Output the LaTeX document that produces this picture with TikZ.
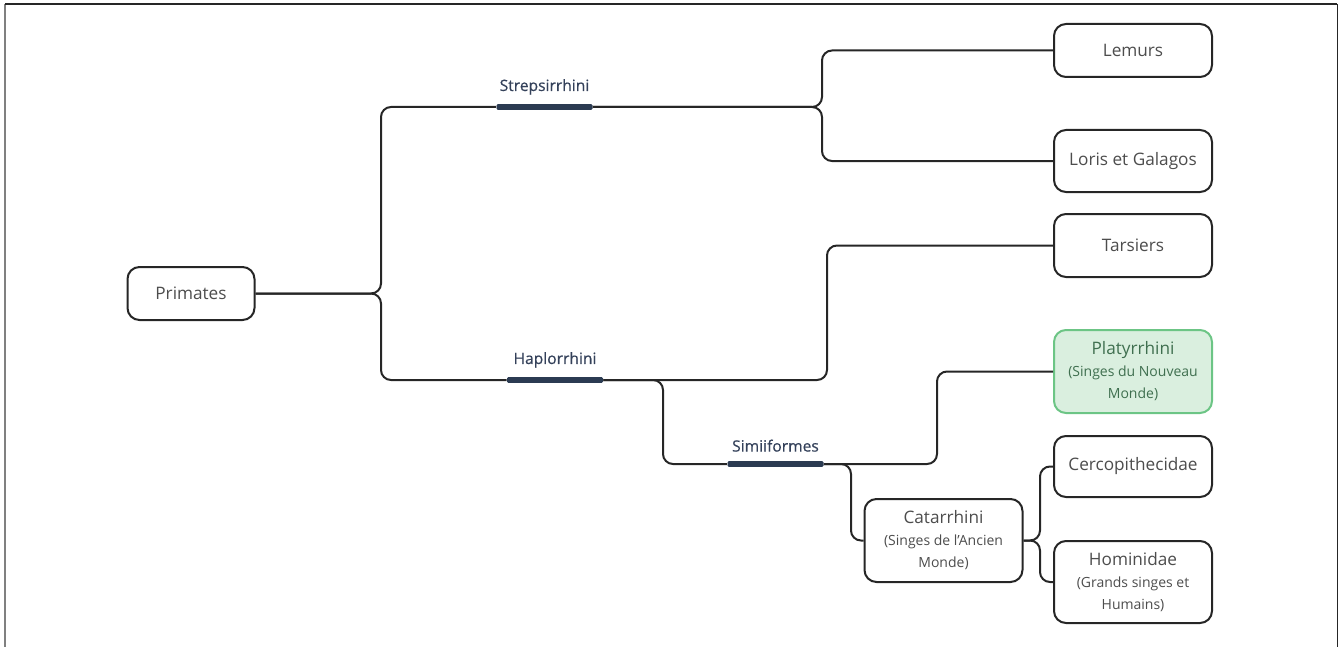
\documentclass[tikz,border=0pt]{standalone}
\usepackage{fontspec}
\setmainfont{Open Sans}
\newfontfamily\cladefont[FakeBold=0.5]{Open Sans}
\definecolor{linkcol}{HTML}{262626}
\definecolor{boxtext}{HTML}{4D4D4D}
\definecolor{barcol}{HTML}{2B3B52}
\definecolor{labcol}{HTML}{34415A}
\definecolor{greenfill}{HTML}{DAEFDF}
\definecolor{greendraw}{HTML}{6CC585}
\definecolor{greentext}{HTML}{3F6F4F}
\newcommand{\subtext}[1]{{\fontsize{7}{11}\selectfont #1}}
\tikzset{
  taxon/.style={draw=linkcol,line width=1pt,rounded corners=6pt,fill=white,text=boxtext,
    minimum width=79pt,align=center,inner sep=2pt,font=\fontsize{8.6}{11}\selectfont},
  newworld/.style={taxon,draw=greendraw,fill=greenfill,text=greentext},
  clade/.style={fill=barcol,rounded corners=0.6pt,minimum width=48pt,minimum height=2.8pt,inner sep=0pt,
    label={[label distance=1pt,text=labcol,font=\cladefont\fontsize{7.8}{9}\selectfont]above:#1}},
  link/.style={draw=linkcol,line width=1pt,rounded corners=5pt}
}
\begin{document}
\begin{tikzpicture}[x=0.5pt,y=-0.5pt]
\useasboundingbox (0,0) rectangle (1343,647);
% frame
\draw[gray,line width=1.2pt] (5,647) -- (5,4);
\draw[linkcol,line width=0.8pt] (5,4) -- (1337,4);
\draw[linkcol,line width=0.5pt] (1337,4) -- (1337,647);

% taxa
\node[taxon,minimum width=63.5pt,minimum height=26.5pt] (primates) at (191,293.5) {Primates};
\node[taxon,minimum height=26.5pt] (lemurs) at (1133,50.5) {Lemurs};
\node[taxon,minimum height=31pt] (loris) at (1133,161) {Loris et Galagos};
\node[taxon,minimum height=31.5pt] (tarsiers) at (1133,245.5) {Tarsiers};
\node[newworld,minimum height=41.5pt] (platy) at (1133,371.5)
  {Platyrrhini\\\subtext{(Singes du Nouveau}\\\subtext{Monde)}};
\node[taxon,minimum height=30.5pt] (cerco) at (1133,466.5) {Cercopithecidae};
\node[taxon,minimum height=41pt] (homin) at (1133,582) {Hominidae\\\subtext{(Grands singes et}\\\subtext{Humains)}};
\node[taxon,minimum height=41.5pt] (catar) at (943.5,540.5) {Catarrhini\\\subtext{(Singes de l’Ancien}\\\subtext{Monde)}};

% clades
\node[clade=Strepsirrhini] (strep) at (544.5,107) {};
\node[clade=Haplorrhini] (haplo) at (555,380) {};
\node[clade=Simiiformes] (simi) at (775.5,464) {};

% junctions
\coordinate (j0) at (381,293.5);
\coordinate (j1) at (822,107);
\coordinate (j2) at (827,380);
\coordinate (j3) at (663,380);
\coordinate (j4) at (937,464);
\coordinate (j5) at (851,464);
\coordinate (j6) at (1040,540.5);

% branches
\draw[link] (primates.east) -- (j0) |- (strep.west);
\draw[link] (primates.east) -- (j0) |- (haplo.west);
\draw[link] (strep.east) -- (j1) |- (lemurs.west);
\draw[link] (strep.east) -- (j1) |- (loris.west);
\draw[link] (haplo.east) -- (j2) |- (tarsiers.west);
\draw[link] (haplo.east) -- (j3) |- (simi.west);
\draw[link] (simi.east) -- (j4) |- (platy.west);
\draw[link] (simi.east) -- (j5) |- (catar.west);
\draw[link] (catar.east) -- (j6) |- (cerco.west);
\draw[link] (catar.east) -- (j6) |- (homin.west);
\end{tikzpicture}
\end{document}
